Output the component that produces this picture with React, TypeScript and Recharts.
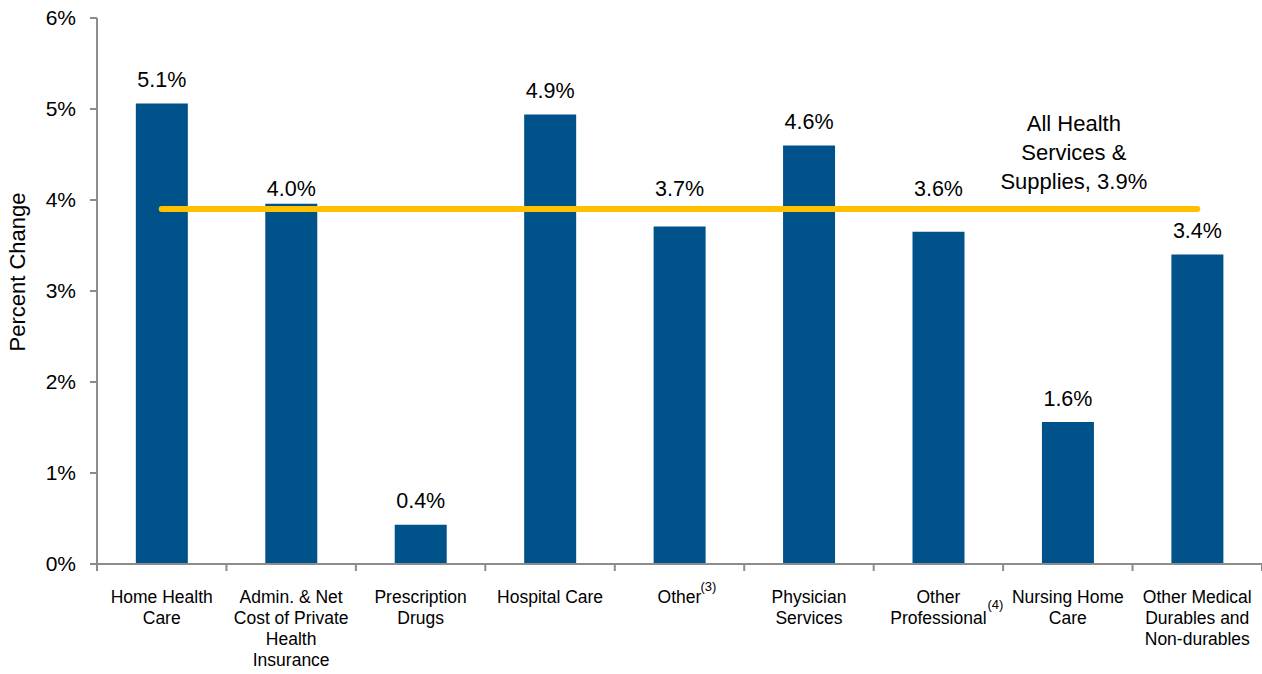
import React from "react";
import {
  ComposedChart,
  Bar,
  Line,
  XAxis,
  YAxis,
  LabelList,
} from "recharts";

const categories = [
  "Home Health Care",
  "Admin. & Net Cost of Private Health Insurance",
  "Prescription Drugs",
  "Hospital Care",
  "Other",
  "Physician Services",
  "Other Professional",
  "Nursing Home Care",
  "Other Medical Durables and Non-durables",
];

// wrapped tick lines and footnote marks, as on the slide
const tickLines = [
  ["Home Health", "Care"],
  ["Admin. & Net", "Cost of Private", "Health", "Insurance"],
  ["Prescription", "Drugs"],
  ["Hospital Care"],
  ["Other"],
  ["Physician", "Services"],
  ["Other", "Professional"],
  ["Nursing Home", "Care"],
  ["Other Medical", "Durables and", "Non-durables"],
];
const footnotes = ["", "", "", "", "(3)", "", "(4)", "", ""];

const growth = [5.06, 3.96, 0.43, 4.94, 3.71, 4.6, 3.65, 1.56, 3.4];
const growthLabels = ["5.1%", "4.0%", "0.4%", "4.9%", "3.7%", "4.6%", "3.6%", "1.6%", "3.4%"];
const allServices = [3.9, 3.9, 3.9, 3.9, 3.9, 3.9, 3.9, 3.9, 3.9];
const allServicesLabel = ["All Health", "Services &", "Supplies, 3.9%"];
const yTicks = [0, 1, 2, 3, 4, 5, 6];

const data = categories.map((name, i) => ({
  name,
  growth: growth[i],
  label: growthLabels[i],
  total: allServices[i],
}));

const FONT = "'Liberation Sans', Arial, sans-serif";
const CHART_W = 1262;
const Y_AXIS_W = 97;
const HALF_BAND = (CHART_W - Y_AXIS_W) / categories.length / 2;

const CategoryTick = (props: any) => {
  const { x, y, payload } = props;
  const i = payload.index;
  const lines = tickLines[i];
  const note = footnotes[i];
  const lh = 21;
  return (
    <g transform={`translate(${x},${y})`}>
      {/* tick marks sit on category boundaries */}
      <line x1={-HALF_BAND} x2={-HALF_BAND} y1={-8} y2={-1} stroke="#8c8c8c" strokeWidth={2} />
      {i === categories.length - 1 && (
        <line x1={HALF_BAND} x2={HALF_BAND} y1={-8} y2={-1} stroke="#8c8c8c" strokeWidth={2} />
      )}
      <text textAnchor="middle" fontSize={17.5} fill="#000" fontFamily={FONT}>
        {lines.map((l, k) => (
          <tspan key={k} x={0} y={31 + k * lh}>
            {l}
          </tspan>
        ))}
      </text>
      {note && i === 4 && (
        <text x={21} y={19} fontSize={13} fontFamily={FONT} fill="#000">
          {note}
        </text>
      )}
      {note && i === 6 && (
        <text x={49} y={37} fontSize={13} fontFamily={FONT} fill="#000">
          {note}
        </text>
      )}
    </g>
  );
};

// value labels; ones that would clash with the yellow line are lifted above it
const BarValue = (props: any) => {
  const { x, y, width, height, value, index } = props;
  const v = growth[index];
  const bottom = y + height;
  const pxPerUnit = height / v;
  const lineY = bottom - allServices[index] * pxPerUnit;
  let cy = y - 24;
  if (Math.abs(y - lineY) < 30) cy = lineY - 21;
  return (
    <text
      x={x + width / 2}
      y={cy}
      dy="0.35em"
      textAnchor="middle"
      fontSize={21.5}
      fontFamily={FONT}
      fill="#000"
    >
      {value}
    </text>
  );
};

const TotalLabel = (props: any) => {
  const { x, y, index } = props;
  if (index !== 7) return null;
  return (
    <text textAnchor="middle" fontSize={22} fontFamily={FONT} fill="#000">
      {allServicesLabel.map((l, k) => (
        <tspan key={k} x={x + 6} y={y - 78 + k * 29}>
          {l}
        </tspan>
      ))}
    </text>
  );
};

const YLabel = (props: any) => {
  const vb = props.viewBox || { x: 0, y: 18, width: 97, height: 546 };
  const cx = 25;
  const cy = vb.y + vb.height / 2 - 19;
  return (
    <text
      x={cx}
      y={cy}
      transform={`rotate(-90, ${cx}, ${cy})`}
      textAnchor="middle"
      fontSize={22}
      fontFamily={FONT}
      fill="#000"
    >
      Percent Change
    </text>
  );
};

export default function App() {
  return (
    <div style={{ width: CHART_W, height: 674, background: "#fff" }}>
      <style>{`body{margin:0}`}</style>
      <ComposedChart
        width={CHART_W}
        height={674}
        data={data}
        margin={{ top: 18, right: 0, bottom: 0, left: 0 }}
        barCategoryGap="30%"
      >
        <XAxis
          dataKey="name"
          interval={0}
          tick={<CategoryTick />}
          tickLine={false}
          axisLine={{ stroke: "#8c8c8c", strokeWidth: 2 }}
          height={110}
        />
        <YAxis
          width={Y_AXIS_W}
          domain={[0, 6]}
          ticks={yTicks}
          tickFormatter={(v: number) => `${v}%`}
          tick={{ fontSize: 21, fill: "#000", fontFamily: FONT }}
          tickSize={7}
          tickMargin={14}
          tickLine={{ stroke: "#8c8c8c", strokeWidth: 2 }}
          axisLine={{ stroke: "#8c8c8c", strokeWidth: 2 }}
          label={<YLabel />}
        />
        <Bar dataKey="growth" fill="#00528A" isAnimationActive={false}>
          <LabelList dataKey="label" content={<BarValue />} />
        </Bar>
        <Line
          dataKey="total"
          stroke="#FFC000"
          strokeWidth={6}
          strokeLinecap="round"
          dot={false}
          activeDot={false}
          isAnimationActive={false}
          label={<TotalLabel />}
        />
      </ComposedChart>
    </div>
  );
}
